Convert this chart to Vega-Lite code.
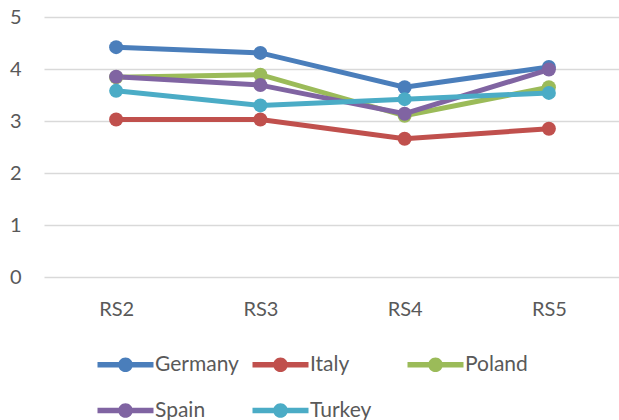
{
  "$schema": "https://vega.github.io/schema/vega-lite/v6.json",
  "width": 577,
  "height": 260,
  "autosize": "none",
  "padding": {"left": 44, "top": 17, "right": 0, "bottom": 143},
  "background": "white",
  "config": {
    "view": {"stroke": null},
    "font": "Lato",
    "axis": {"labelFont": "Lato", "labelColor": "#595959", "labelFontSize": 20},
    "legend": {"labelFont": "Lato", "labelColor": "#595959", "labelFontSize": 21}
  },
  "data": {
    "values": [
      {"country": "Germany", "round": "RS2", "value": 4.42},
      {"country": "Germany", "round": "RS3", "value": 4.31},
      {"country": "Germany", "round": "RS4", "value": 3.65},
      {"country": "Germany", "round": "RS5", "value": 4.04},
      {"country": "Italy", "round": "RS2", "value": 3.03},
      {"country": "Italy", "round": "RS3", "value": 3.03},
      {"country": "Italy", "round": "RS4", "value": 2.66},
      {"country": "Italy", "round": "RS5", "value": 2.85},
      {"country": "Poland", "round": "RS2", "value": 3.84},
      {"country": "Poland", "round": "RS3", "value": 3.89},
      {"country": "Poland", "round": "RS4", "value": 3.10},
      {"country": "Poland", "round": "RS5", "value": 3.65},
      {"country": "Spain", "round": "RS2", "value": 3.85},
      {"country": "Spain", "round": "RS3", "value": 3.69},
      {"country": "Spain", "round": "RS4", "value": 3.14},
      {"country": "Spain", "round": "RS5", "value": 3.99},
      {"country": "Turkey", "round": "RS2", "value": 3.58},
      {"country": "Turkey", "round": "RS3", "value": 3.30},
      {"country": "Turkey", "round": "RS4", "value": 3.42},
      {"country": "Turkey", "round": "RS5", "value": 3.54}
    ]
  },
  "mark": {"type": "line", "strokeWidth": 5, "point": {"filled": true, "size": 196, "opacity": 1}},
  "encoding": {
    "x": {
      "field": "round", "type": "nominal", "title": null,
      "scale": {"padding": 0.5},
      "axis": {"labelAngle": 0, "ticks": false, "domain": false, "labelPadding": 22, "grid": false}
    },
    "y": {
      "field": "value", "type": "quantitative", "title": null,
      "scale": {"domain": [0, 5], "nice": false, "zero": true},
      "axis": {"values": [0, 1, 2, 3, 4, 5], "ticks": false, "domain": false, "labelPadding": 23, "gridColor": "#d9d9d9", "gridWidth": 1.5}
    },
    "color": {
      "field": "country", "type": "nominal",
      "scale": {"domain": ["Germany", "Italy", "Poland", "Spain", "Turkey"], "range": ["#4a7ebb", "#c0504d", "#9bbb59", "#8064a2", "#4bacc6"]},
      "legend": {
        "title": null,
        "orient": "none",
        "legendX": 50,
        "legendY": 337,
        "direction": "horizontal",
        "columns": 3,
        "gridAlign": "all",
        "columnPadding": 10,
        "rowPadding": 24,
        "padding": 0,
        "symbolType": "M-4,-0.38L4,-0.38L4,0.38L-4,0.38Z M1.05,0 A1.05,1.05 0 1,1 -1.05,0 A1.05,1.05 0 1,1 1.05,0 Z",
        "symbolSize": 196,
        "symbolOffset": 21,
        "labelOffset": 19,
        "symbolStrokeWidth": 0,
        "encode": {"symbols": {"update": {"fill": {"scale": "color", "field": "value"}, "strokeWidth": {"value": 0}, "opacity": {"value": 1}}}}
      }
    }
  }
}
